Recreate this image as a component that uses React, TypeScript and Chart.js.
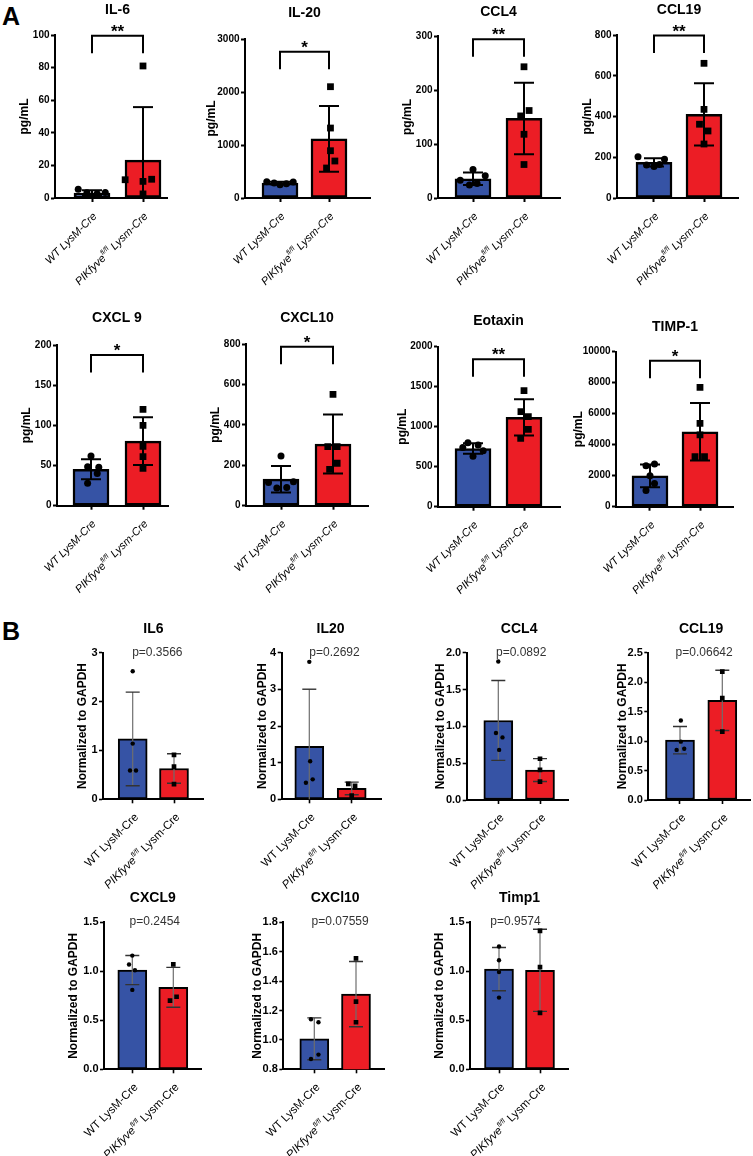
import React, { useEffect, useRef } from 'react';
import { Chart, registerables } from 'chart.js';
Chart.register(...registerables);

const FONT = "'Liberation Sans', Arial, Helvetica, sans-serif";
const BLUE = '#3653a5';
const RED = '#ec1d25';

// categories (label segments)
const GROUP_WT = ['WT LysM-Cre'];
const GROUP_KO = ['PIKfyve', 'fl/fl', ' Lysm-Cre'];

// ---------- Panel A (pg/mL) ----------
const A_TITLES = ['IL-6', 'IL-20', 'CCL4', 'CCL19', 'CXCL 9', 'CXCL10', 'Eotaxin', 'TIMP-1'];
const A_TICKS = [
  [0, 20, 40, 60, 80, 100],
  [0, 1000, 2000, 3000],
  [0, 100, 200, 300],
  [0, 200, 400, 600, 800],
  [0, 50, 100, 150, 200],
  [0, 200, 400, 600, 800],
  [0, 500, 1000, 1500, 2000],
  [0, 2000, 4000, 6000, 8000, 10000],
];
const A_STARS = ['**', '*', '**', '**', '*', '*', '**', '*'];
const A_BRACKET = [99.5, 2760, 294, 797, 187.5, 787, 1842, 9420];

const IL6_WT = [5.3, 3.2, 2.6, 0.7, 3.4];
const IL6_KO = [81, 11.2, 10.2, 11.5, 2.5];
const IL20_WT = [305, 285, 250, 270, 300];
const IL20_KO = [2100, 1320, 892, 698, 566];
const CCL4_WT = [53, 33, 24, 27, 41];
const CCL4_KO = [243, 162, 152, 118, 62];
const CCL19_WT = [203, 162, 155, 165, 190];
const CCL19_KO = [661, 435, 362, 329, 265];
const CXCL9_WT = [62, 48.5, 47.8, 40, 28];
const CXCL9_KO = [120, 100, 74, 61, 46.5];
const CXCL10_WT = [246, 115, 88, 90, 118];
const CXCL10_KO = [551, 292, 292, 210, 180];
const EOTAXIN_WT = [800, 770, 740, 700, 630];
const EOTAXIN_KO = [1450, 1188, 1125, 967, 855];
const TIMP1_WT = [2650, 2750, 2000, 1500, 1050];
const TIMP1_KO = [7700, 5380, 4630, 3230, 3230];

// horizontal scatter offsets of the dots (category units)
const IL6_WT_X = [-0.27, -0.1, 0.1, 0, 0.26];
const IL6_KO_X = [0, -0.35, 0, 0.17, 0];
const IL20_WT_X = [-0.27, -0.12, 0, 0.13, 0.27];
const IL20_KO_X = [0.03, 0.03, 0.03, 0.12, -0.05];
const CCL4_WT_X = [0, -0.25, -0.07, 0.08, 0.24];
const CCL4_KO_X = [0, 0.1, -0.065, 0, 0];
const CCL19_WT_X = [-0.32, -0.15, 0, 0.11, 0.21];
const CCL19_KO_X = [0, 0, -0.09, 0.08, 0];
const CXCL9_WT_X = [0, -0.065, 0.15, 0.12, -0.065];
const CXCL9_KO_X = [0, 0, 0, 0, 0];
const CXCL10_WT_X = [0, -0.24, -0.08, 0.11, 0.24];
const CXCL10_KO_X = [0, 0.08, -0.1, 0.08, -0.065];
const EOTAXIN_WT_X = [-0.1, 0.1, -0.2, 0.2, 0];
const EOTAXIN_KO_X = [0, -0.06, 0.085, 0.085, -0.065];
const TIMP1_WT_X = [-0.08, 0.09, 0, 0.09, -0.08];
const TIMP1_KO_X = [0, 0, 0, -0.1, 0.09];

// ---------- Panel B (normalized to GAPDH) ----------
const B_TITLES = ['IL6', 'IL20', 'CCL4', 'CCL19', 'CXCL9', 'CXCl10', 'Timp1'];
const B_PVALUES = ['p=0.3566', 'p=0.2692', 'p=0.0892', 'p=0.06642', 'p=0.2454', 'p=0.07559', 'p=0.9574'];
const B_TICKS = [
  [0, 1, 2, 3],
  [0, 1, 2, 3, 4],
  [0, 0.5, 1, 1.5, 2],
  [0, 0.5, 1, 1.5, 2, 2.5],
  [0, 0.5, 1, 1.5],
  [0.8, 1, 1.2, 1.4, 1.6, 1.8],
  [0, 0.5, 1, 1.5],
];
const B_DECIMALS = [0, 0, 1, 1, 1, 1, 1];

const B_IL6_WT = [2.62, 1.14, 0.59, 0.59];
const B_IL6_KO = [0.91, 0.67, 0.31];
const B_IL20_WT = [3.75, 1.04, 0.545, 0.45];
const B_IL20_KO = [0.42, 0.37, 0.1];
const B_CCL4_WT = [1.88, 0.91, 0.85, 0.68];
const B_CCL4_KO = [0.56, 0.41, 0.25];
const B_CCL19_WT = [1.35, 0.99, 0.85, 0.87];
const B_CCL19_KO = [2.18, 1.73, 1.16];
const B_CXCL9_WT = [1.16, 1.07, 1.01, 0.81];
const B_CXCL9_KO = [1.07, 0.7, 0.74];
const B_CXCL10_WT = [1.14, 1.12, 0.9, 0.87];
const B_CXCL10_KO = [1.555, 1.26, 1.12];
const B_TIMP1_WT = [1.25, 1.11, 0.99, 0.73];
const B_TIMP1_KO = [1.41, 1.04, 0.575];

const B_IL6_WT_X = [0, 0, -0.065, 0.08];
const B_IL6_KO_X = [0, 0, 0];
const B_IL20_WT_X = [0, 0.02, 0.08, -0.08];
const B_IL20_KO_X = [-0.08, 0.08, 0];
const B_CCL4_WT_X = [0, -0.056, 0.1, 0.02];
const B_CCL4_KO_X = [0, 0, 0];
const B_CCL19_WT_X = [0.02, 0.02, -0.08, 0.1];
const B_CCL19_KO_X = [0, 0, 0];
const B_CXCL9_WT_X = [0, -0.08, 0.065, 0];
const B_CXCL9_KO_X = [0, -0.08, 0.08];
const B_CXCL10_WT_X = [-0.08, 0.1, 0.1, -0.08];
const B_CXCL10_KO_X = [0, 0, 0];
const B_TIMP1_WT_X = [0, 0, 0, 0];
const B_TIMP1_KO_X = [0, 0, 0];

// ---------- layout (page px): axisX, endX, topY, zeroY, tick0X, tick1X, yTitleOffset, titleDy, pDx ----------
const A_LAYOUT = [
  [55, 167, 35, 198, 92, 143, 30, 25, 0],
  [245, 370, 39, 198, 280, 329, 33, 26, 0],
  [438, 560, 36, 198, 473, 524, 30, 24, 0],
  [617, 738, 35, 198, 654, 704, 29.5, 25, 0],
  [57, 168, 345, 505.7, 91, 143, 30, 27, 0],
  [246, 368, 344, 505.7, 281, 333, 30, 26, 0],
  [438, 560, 346.7, 506.7, 473, 524, 35.3, 26, 0],
  [616, 733, 351.7, 506.7, 650, 700, 37, 25, 0],
];
const B_LAYOUT = [
  [103, 203, 652.7, 799.3, 132.7, 174, 20, 24, 4],
  [281.7, 381, 652.7, 799.3, 309.3, 351.7, 19, 24, 4],
  [466.7, 568.3, 652.7, 800, 498.3, 540, 26, 24, 2],
  [648.3, 750, 652.7, 800, 680, 722.3, 26, 24, 3],
  [104, 201.7, 922.3, 1069.3, 132.3, 173.3, 30, 24, 2],
  [283.3, 384, 922.3, 1069.3, 314.3, 356, 26, 24, 5],
  [470, 568.3, 922, 1069.3, 499, 540, 30, 24, -4],
];

const STYLE: any = {
  A: {
    barW: 36, border: 2.5, errColor: '#000', capColor: '#000', errW: 2, capW: 2, capHalf: 10,
    circleR: 3.5, rectR: 4.8, tickFont: 10, tickW: 2, tickLen: 4, tickPad: 1.5, labelSize: 11, supSize: 7,
    wtItalic: true, koItalic: [true, true, true], labelDx: 2.5, labelDy: 16, PT: 46, XH: 100,
  },
  B: {
    barW: 29, border: 2, errColor: '#6e6e6e', capColor: '#333', errW: 1.2, capW: 1.4, capHalf: 7,
    circleR: 2.2, rectR: 3.3, tickFont: 11, tickW: 1.6, tickLen: 4, tickPad: 1.5, labelSize: 11.5, supSize: 7,
    wtItalic: false, koItalic: [true, true, false], labelDx: 3.5, labelDy: 15.5, PT: 38, XH: 92,
  },
};

type Spec = {
  panel: 'A' | 'B';
  title: string;
  wt: number[];
  ko: number[];
  wtX: number[];
  koX: number[];
  ticks: number[];
  dec: number;
  yLabel: string;
  stars?: string;
  bracket?: number;
  p?: string;
  lay: number[];
};

const A_WT = [IL6_WT, IL20_WT, CCL4_WT, CCL19_WT, CXCL9_WT, CXCL10_WT, EOTAXIN_WT, TIMP1_WT];
const A_KO = [IL6_KO, IL20_KO, CCL4_KO, CCL19_KO, CXCL9_KO, CXCL10_KO, EOTAXIN_KO, TIMP1_KO];
const A_WTX = [IL6_WT_X, IL20_WT_X, CCL4_WT_X, CCL19_WT_X, CXCL9_WT_X, CXCL10_WT_X, EOTAXIN_WT_X, TIMP1_WT_X];
const A_KOX = [IL6_KO_X, IL20_KO_X, CCL4_KO_X, CCL19_KO_X, CXCL9_KO_X, CXCL10_KO_X, EOTAXIN_KO_X, TIMP1_KO_X];
const B_WT = [B_IL6_WT, B_IL20_WT, B_CCL4_WT, B_CCL19_WT, B_CXCL9_WT, B_CXCL10_WT, B_TIMP1_WT];
const B_KO = [B_IL6_KO, B_IL20_KO, B_CCL4_KO, B_CCL19_KO, B_CXCL9_KO, B_CXCL10_KO, B_TIMP1_KO];
const B_WTX = [B_IL6_WT_X, B_IL20_WT_X, B_CCL4_WT_X, B_CCL19_WT_X, B_CXCL9_WT_X, B_CXCL10_WT_X, B_TIMP1_WT_X];
const B_KOX = [B_IL6_KO_X, B_IL20_KO_X, B_CCL4_KO_X, B_CCL19_KO_X, B_CXCL9_KO_X, B_CXCL10_KO_X, B_TIMP1_KO_X];

const SPECS: Spec[] = [
  ...A_TITLES.map((t, i) => ({
    panel: 'A' as const, title: t, wt: A_WT[i], ko: A_KO[i], wtX: A_WTX[i], koX: A_KOX[i],
    ticks: A_TICKS[i], dec: 0, yLabel: 'pg/mL', stars: A_STARS[i], bracket: A_BRACKET[i], lay: A_LAYOUT[i],
  })),
  ...B_TITLES.map((t, i) => ({
    panel: 'B' as const, title: t, wt: B_WT[i], ko: B_KO[i], wtX: B_WTX[i], koX: B_KOX[i],
    ticks: B_TICKS[i], dec: B_DECIMALS[i], yLabel: 'Normalized to GAPDH', p: B_PVALUES[i], lay: B_LAYOUT[i],
  })),
];

const mean = (a: number[]) => a.reduce((s, v) => s + v, 0) / a.length;
const sd = (a: number[]) => {
  const m = mean(a);
  return Math.sqrt(a.reduce((s, v) => s + (v - m) * (v - m), 0) / (a.length - 1));
};

const EXTRA_L = 12;
const PR = 22;
const PB = 4;

function geom(spec: Spec) {
  const st = STYLE[spec.panel];
  const [ax, ex, ty, zy, t0, t1, yto] = spec.lay;
  const YW = yto + 7.2;
  const left = Math.round(ax - YW - EXTRA_L);
  const top = Math.round(ty - st.PT);
  const w = Math.ceil(ex + PR - left);
  const h = Math.ceil(zy + st.XH + PB - top);
  const padL = ax - YW - left;
  const padT = ty - top;
  const padR = w - (ex - left);
  const padB = h - (zy - top) - st.XH;
  const s = t1 - t0;
  return {
    left, top, w, h, YW, padL, padT, padR, padB,
    xmin: -(t0 - ax) / s,
    xmax: 1 + (ex - t1) / s,
  };
}

function makeDecor(spec: Spec) {
  const st = STYLE[spec.panel];
  return {
    id: 'decor',
    afterDatasetDraw(chart: any, args: any) {
      if (args.index !== 0) return;
      const ctx = chart.ctx;
      const y = chart.scales.y;
      const meta = chart.getDatasetMeta(0);
      [spec.wt, spec.ko].forEach((vals, i) => {
        const el = meta.data[i];
        if (!el) return;
        const m = mean(vals);
        const d = sd(vals);
        const x = el.x;
        const yt = y.getPixelForValue(m + d);
        const low = m - d;
        const yb = y.getPixelForValue(Math.max(low, y.min));
        ctx.save();
        ctx.lineCap = 'butt';
        ctx.strokeStyle = st.errColor;
        ctx.lineWidth = st.errW;
        ctx.beginPath();
        ctx.moveTo(x, yt);
        ctx.lineTo(x, yb);
        ctx.stroke();
        ctx.strokeStyle = st.capColor;
        ctx.lineWidth = st.capW;
        ctx.beginPath();
        ctx.moveTo(x - st.capHalf, yt);
        ctx.lineTo(x + st.capHalf, yt);
        if (low > y.min) {
          ctx.moveTo(x - st.capHalf, yb);
          ctx.lineTo(x + st.capHalf, yb);
        }
        ctx.stroke();
        ctx.restore();
      });
    },
    afterDraw(chart: any) {
      const ctx = chart.ctx;
      const xs = chart.scales.x;
      const y = chart.scales.y;
      const area = chart.chartArea;
      const x0 = xs.getPixelForValue(0);
      const x1 = xs.getPixelForValue(1);
      const xm = (x0 + x1) / 2;
      ctx.save();
      // title
      ctx.fillStyle = '#000';
      ctx.font = `bold 14px ${FONT}`;
      ctx.textAlign = 'center';
      ctx.textBaseline = 'middle';
      ctx.fillText(spec.title, xm, area.top - spec.lay[7]);
      // significance bracket
      if (spec.bracket !== undefined && spec.stars) {
        const yb = y.getPixelForValue(spec.bracket);
        ctx.strokeStyle = '#000';
        ctx.lineWidth = 2;
        ctx.lineJoin = 'miter';
        ctx.lineCap = 'butt';
        ctx.beginPath();
        ctx.moveTo(x0, yb + 17.5);
        ctx.lineTo(x0, yb);
        ctx.lineTo(x1, yb);
        ctx.lineTo(x1, yb + 17.5);
        ctx.stroke();
        ctx.font = `bold 17px ${FONT}`;
        ctx.textBaseline = 'alphabetic';
        ctx.fillText(spec.stars, xm, yb + 1);
      }
      // p value
      if (spec.p) {
        ctx.font = `12px ${FONT}`;
        ctx.fillStyle = '#333';
        ctx.textBaseline = 'middle';
        ctx.fillText(spec.p, xm + spec.lay[8], area.top - 0.5);
      }
      // rotated category labels
      const drawLabel = (tx: number, segs: { t: string; it: boolean; sup: boolean }[]) => {
        ctx.save();
        ctx.translate(tx + st.labelDx, area.bottom + st.labelDy);
        ctx.rotate(-Math.PI / 4);
        ctx.textAlign = 'left';
        ctx.textBaseline = 'alphabetic';
        ctx.fillStyle = '#000';
        const fonts = segs.map((s) => `${s.it ? 'italic ' : ''}${s.sup ? st.supSize : st.labelSize}px ${FONT}`);
        let total = 0;
        const widths = segs.map((s, i) => {
          ctx.font = fonts[i];
          const wd = ctx.measureText(s.t).width;
          total += wd;
          return wd;
        });
        let x = -total;
        segs.forEach((s, i) => {
          ctx.font = fonts[i];
          ctx.fillText(s.t, x, s.sup ? -1 : 4);
          x += widths[i];
        });
        ctx.restore();
      };
      drawLabel(x0, [{ t: GROUP_WT[0], it: st.wtItalic, sup: false }]);
      drawLabel(
        x1,
        GROUP_KO.map((t, i) => ({ t, it: st.koItalic[i], sup: i === 1 }))
      );
      ctx.restore();
    },
  };
}

function Panel({ spec }: { spec: Spec }) {
  const ref = useRef<HTMLCanvasElement | null>(null);
  const g = geom(spec);
  useEffect(() => {
    const st = STYLE[spec.panel];
    const pts = [
      ...spec.wt.map((v, i) => ({ x: 0 + spec.wtX[i], y: v })),
      ...spec.ko.map((v, i) => ({ x: 1 + spec.koX[i], y: v })),
    ];
    const styles = [...spec.wt.map(() => 'circle'), ...spec.ko.map(() => 'rect')];
    const radii = [...spec.wt.map(() => st.circleR), ...spec.ko.map(() => st.rectR)];
    const axisGrid = {
      display: true,
      drawOnChartArea: false,
      drawTicks: true,
      tickLength: st.tickLen,
      tickWidth: st.tickW,
      tickColor: '#000',
      offset: false,
    };
    const chart = new Chart(ref.current as HTMLCanvasElement, {
      type: 'bar',
      data: {
        datasets: [
          {
            type: 'bar',
            data: [
              { x: 0, y: mean(spec.wt) },
              { x: 1, y: mean(spec.ko) },
            ],
            backgroundColor: [BLUE, RED],
            borderColor: '#000',
            borderWidth: st.border,
            borderSkipped: false,
            barThickness: st.barW,
            order: 2,
          } as any,
          {
            type: 'scatter',
            data: pts,
            pointStyle: styles,
            pointRadius: radii,
            backgroundColor: '#000',
            borderColor: '#000',
            borderWidth: 0,
            order: 1,
          } as any,
        ],
      },
      options: {
        animation: false,
        responsive: false,
        devicePixelRatio: 1,
        events: [],
        layout: { padding: { left: g.padL, top: g.padT, right: g.padR, bottom: g.padB } },
        plugins: { legend: { display: false }, tooltip: { enabled: false }, title: { display: false } },
        scales: {
          x: {
            type: 'linear',
            min: g.xmin,
            max: g.xmax,
            offset: false,
            grid: axisGrid,
            border: { display: true, color: '#000', width: 2 },
            ticks: { display: true, callback: () => '' },
            afterBuildTicks: (s: any) => {
              s.ticks = [{ value: 0 }, { value: 1 }];
            },
            afterFit: (s: any) => {
              s.height = st.XH;
            },
          },
          y: {
            type: 'linear',
            min: spec.ticks[0],
            max: spec.ticks[spec.ticks.length - 1],
            grid: axisGrid,
            border: { display: true, color: '#000', width: 2 },
            ticks: {
              color: '#000',
              padding: st.tickPad,
              font: { family: FONT, size: st.tickFont, weight: 'bold' },
              callback: (v: any) => Number(v).toFixed(spec.dec),
            },
            afterBuildTicks: (s: any) => {
              s.ticks = spec.ticks.map((v) => ({ value: v }));
            },
            afterFit: (s: any) => {
              s.width = g.YW;
            },
            title: {
              display: true,
              text: spec.yLabel,
              color: '#000',
              padding: 0,
              font: { family: FONT, size: 12, weight: 'bold' },
            },
          },
        },
      } as any,
      plugins: [makeDecor(spec)],
    });
    return () => chart.destroy();
  }, []);
  return (
    <canvas
      ref={ref}
      width={g.w}
      height={g.h}
      style={{ position: 'absolute', left: g.left, top: g.top, width: g.w, height: g.h }}
    />
  );
}

const letterStyle: React.CSSProperties = {
  position: 'absolute',
  left: 2,
  font: `bold 25px ${FONT}`,
  lineHeight: '25px',
  color: '#000',
};

export default function App() {
  return (
    <div
      style={{
        position: 'absolute',
        left: 0,
        top: 0,
        width: 753,
        height: 1156,
        overflow: 'hidden',
        background: '#fff',
      }}
    >
      <div style={{ ...letterStyle, top: 3.7 }}>A</div>
      <div style={{ ...letterStyle, top: 618.7 }}>B</div>
      {SPECS.map((s, i) => (
        <Panel key={i} spec={s} />
      ))}
    </div>
  );
}
